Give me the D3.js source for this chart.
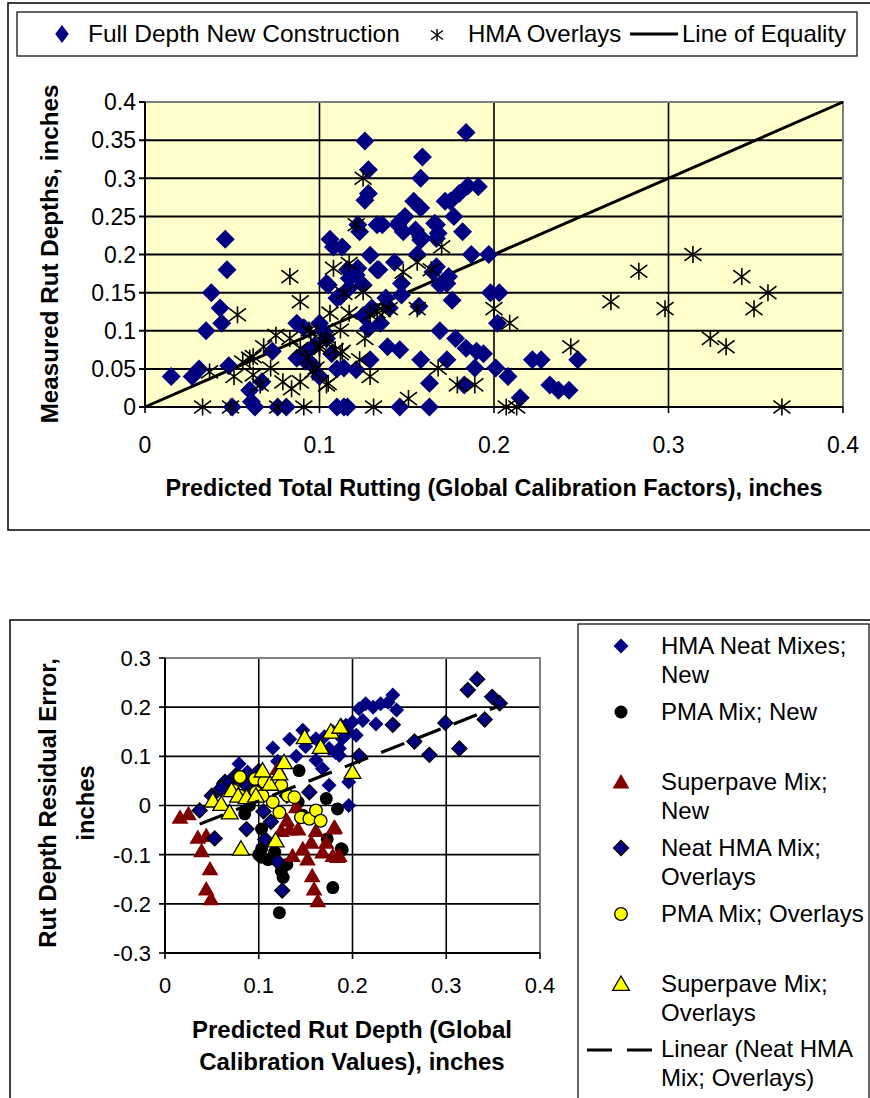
<!DOCTYPE html>
<html>
<head>
<meta charset="utf-8">
<script src="https://cdn.jsdelivr.net/npm/d3@7"></script>
<style>
  body { margin: 0; background: #fff; }
  text { font-family: Arial, "Liberation Sans", sans-serif; fill: #000; }
</style>
</head>
<body>
<svg id="chart" width="870" height="1098"></svg>
<script>
// ---------- Upper chart: measured vs predicted rut depth ----------
const fullDepthNew = [
  [0.015,0.04],[0.027,0.04],[0.031,0.05],[0.035,0.10],[0.038,0.15],[0.043,0.13],[0.044,0.11],
  [0.047,0.18],[0.046,0.22],[0.048,0.054],[0.050,0.0],[0.060,0.022],[0.061,0.007],[0.063,0.0],
  [0.067,0.033],[0.073,0.073],[0.076,0.0],[0.081,0.0],[0.087,0.11],[0.087,0.064],[0.091,0.104],
  [0.093,0.073],[0.096,0.055],[0.100,0.11],[0.106,0.22],[0.108,0.21],[0.113,0.21],[0.105,0.16],
  [0.110,0.143],[0.110,0.05],[0.110,0.0],[0.097,0.08],[0.104,0.09],[0.092,0.06],[0.100,0.04],
  [0.107,0.07],[0.102,0.10],[0.126,0.349],[0.128,0.311],[0.128,0.28],[0.126,0.271],[0.159,0.328],
  [0.158,0.30],[0.184,0.36],[0.154,0.27],[0.158,0.261],[0.175,0.27],[0.180,0.28],[0.185,0.29],
  [0.191,0.289],[0.172,0.27],[0.122,0.239],[0.123,0.23],[0.133,0.239],[0.136,0.239],[0.145,0.239],
  [0.149,0.25],[0.146,0.243],[0.148,0.23],[0.155,0.232],[0.158,0.223],[0.158,0.219],[0.166,0.241],
  [0.167,0.239],[0.168,0.228],[0.177,0.25],[0.182,0.23],[0.167,0.221],[0.129,0.199],[0.143,0.19],
  [0.156,0.20],[0.167,0.184],[0.174,0.171],[0.169,0.16],[0.173,0.162],[0.165,0.177],[0.187,0.20],
  [0.197,0.20],[0.134,0.18],[0.133,0.18],[0.116,0.18],[0.122,0.182],[0.117,0.169],[0.121,0.173],
  [0.120,0.175],[0.104,0.162],[0.117,0.156],[0.112,0.145],[0.125,0.16],[0.138,0.143],[0.147,0.147],
  [0.147,0.162],[0.157,0.132],[0.176,0.14],[0.198,0.15],[0.203,0.15],[0.202,0.11],[0.128,0.103],
  [0.169,0.10],[0.178,0.09],[0.139,0.079],[0.146,0.075],[0.184,0.077],[0.190,0.073],[0.194,0.07],
  [0.158,0.062],[0.173,0.062],[0.129,0.062],[0.114,0.051],[0.121,0.049],[0.189,0.051],[0.201,0.051],
  [0.163,0.031],[0.183,0.029],[0.114,0.0],[0.116,0.0],[0.146,0.0],[0.163,0.0],[0.208,0.04],
  [0.222,0.062],[0.227,0.062],[0.248,0.062],[0.232,0.029],[0.237,0.022],[0.243,0.022],[0.215,0.012],
  [0.125,0.12],[0.130,0.13],[0.140,0.13],[0.135,0.11]
];

const hmaOverlays = [
  [0.033,0.0],[0.037,0.046],[0.049,0.0],[0.051,0.04],[0.053,0.121],[0.056,0.059],[0.060,0.064],
  [0.062,0.042],[0.062,0.066],[0.066,0.029],[0.068,0.079],[0.072,0.051],[0.075,0.094],[0.076,0.0],
  [0.079,0.033],[0.083,0.171],[0.083,0.09],[0.084,0.024],[0.089,0.138],[0.089,0.077],[0.089,0.033],
  [0.091,0.0],[0.093,0.064],[0.094,0.101],[0.095,0.097],[0.096,0.046],[0.098,0.051],[0.100,0.077],
  [0.100,0.081],[0.104,0.029],[0.104,0.088],[0.104,0.092],[0.105,0.031],[0.106,0.123],[0.108,0.182],
  [0.109,0.075],[0.112,0.07],[0.112,0.101],[0.113,0.073],[0.114,0.149],[0.117,0.188],[0.117,0.123],
  [0.121,0.239],[0.123,0.062],[0.125,0.30],[0.125,0.151],[0.126,0.09],[0.129,0.121],[0.129,0.04],
  [0.131,0.0],[0.133,0.125],[0.136,0.127],[0.140,0.129],[0.148,0.177],[0.151,0.011],[0.156,0.19],
  [0.156,0.129],[0.164,0.18],[0.168,0.051],[0.170,0.21],[0.179,0.029],[0.189,0.029],[0.200,0.129],
  [0.209,0.11],[0.207,0.0],[0.213,0.0],[0.244,0.079],[0.267,0.138],[0.283,0.178],[0.298,0.129],
  [0.314,0.20],[0.324,0.09],[0.333,0.079],[0.342,0.171],[0.349,0.129],[0.357,0.15],[0.365,0.0]
];

const equalityLine = [[0, 0], [0.4, 0.4]];

const topXTicks = [0, 0.1, 0.2, 0.3, 0.4];
const topXTickLabels = ["0", "0.1", "0.2", "0.3", "0.4"];
const topYTicks = [0, 0.05, 0.1, 0.15, 0.2, 0.25, 0.3, 0.35, 0.4];
const topYTickLabels = ["0", "0.05", "0.1", "0.15", "0.2", "0.25", "0.3", "0.35", "0.4"];

// ---------- Lower chart: residual error vs predicted rut depth ----------
const hmaNeatNew = [
  [0.115,0.117],[0.133,0.135],[0.147,0.153],[0.079,0.085],[0.062,0.044],[0.076,0.061],[0.088,0.068],
  [0.161,0.136],[0.179,0.15],[0.193,0.163],[0.204,0.143],[0.175,0.116],[0.186,0.116],[0.161,0.092],
  [0.168,0.075],[0.175,0.041],[0.196,0.048],[0.196,0.0],[0.186,0.102],[0.207,0.197],[0.214,0.207],
  [0.230,0.207],[0.243,0.225],[0.247,0.194],[0.225,0.166],[0.211,0.173],[0.196,0.149],[0.189,0.136],
  [0.182,0.108],[0.100,0.06],[0.070,0.05],[0.095,0.04],[0.120,0.09],[0.140,0.10],[0.150,0.12],
  [0.170,0.14],[0.200,0.17],[0.238,0.21],[0.222,0.20]
];

const pmaNew = [
  [0.143,0.071],[0.085,-0.017],[0.103,-0.048],[0.103,-0.088],[0.103,-0.105],[0.117,-0.095],
  [0.124,-0.133],[0.126,-0.146],[0.122,-0.218],[0.172,0.014],[0.184,-0.007],[0.179,-0.167],
  [0.188,-0.088],[0.173,-0.068],[0.142,0.007],[0.147,-0.02],[0.189,-0.09],[0.110,-0.11],
  [0.100,-0.10],[0.130,-0.12],[0.090,0.0]
];

const superpaveNew = [
  [0.016,-0.024],[0.025,-0.017],[0.035,-0.065],[0.044,-0.061],[0.039,-0.092],[0.048,-0.129],
  [0.044,-0.17],[0.049,-0.19],[0.124,-0.051],[0.133,-0.048],[0.142,-0.048],[0.136,-0.102],
  [0.147,-0.088],[0.152,-0.109],[0.156,-0.075],[0.157,-0.143],[0.159,-0.17],[0.163,-0.194],
  [0.168,-0.095],[0.172,-0.075],[0.179,-0.102],[0.186,-0.102],[0.181,-0.044],[0.161,-0.051],
  [0.120,0.075],[0.140,-0.003],[0.180,-0.046],[0.184,-0.104],[0.130,-0.03]
];

const neatHmaOverlays = [
  [0.037,-0.01],[0.064,0.048],[0.053,-0.067],[0.087,-0.048],[0.105,-0.012],[0.113,-0.033],
  [0.107,-0.069],[0.120,-0.114],[0.125,-0.173],[0.154,0.027],[0.087,0.041],[0.243,0.164],
  [0.266,0.13],[0.282,0.103],[0.299,0.168],[0.314,0.116],[0.323,0.235],[0.333,0.257],
  [0.349,0.221],[0.357,0.208],[0.341,0.175],[0.207,0.101],[0.068,0.045],[0.075,0.06],
  [0.095,0.035],[0.130,0.02],[0.050,0.02],[0.060,0.035],[0.080,0.055],[0.100,0.07]
];

const pmaOverlays = [
  [0.080,0.058],[0.096,0.054],[0.106,0.048],[0.073,0.031],[0.080,0.02],[0.097,0.027],
  [0.115,0.007],[0.122,-0.014],[0.124,0.041],[0.131,0.02],[0.138,0.017],[0.145,-0.024],
  [0.154,-0.027],[0.161,-0.01],[0.166,-0.031],[0.104,0.02]
];

const superpaveOverlays = [
  [0.051,0.01],[0.060,0.003],[0.069,-0.014],[0.071,0.031],[0.078,0.02],[0.087,0.017],
  [0.097,0.02],[0.104,0.071],[0.112,0.044],[0.122,0.065],[0.127,0.088],[0.081,-0.088],
  [0.118,-0.071],[0.149,0.139],[0.166,0.119],[0.177,0.15],[0.188,0.16],[0.200,0.068],[0.187,0.16]
];

const botXTicks = [0, 0.1, 0.2, 0.3, 0.4];
const botXTickLabels = ["0", "0.1", "0.2", "0.3", "0.4"];
const botYTicks = [-0.3, -0.2, -0.1, 0, 0.1, 0.2, 0.3];
const botYTickLabels = ["-0.3", "-0.2", "-0.1", "0", "0.1", "0.2", "0.3"];

// ---------- marker shapes ----------
const diamondShape = { draw(ctx, r) { ctx.moveTo(0, -r); ctx.lineTo(r, 0); ctx.lineTo(0, r); ctx.lineTo(-r, 0); ctx.closePath(); } };
const starShape = { draw(ctx, r) {
  const dx = r, dy = r * 0.76;
  ctx.moveTo(0, -r); ctx.lineTo(0, r);
  ctx.moveTo(-dx, -dy); ctx.lineTo(dx, dy);
  ctx.moveTo(-dx, dy); ctx.lineTo(dx, -dy);
} };
const triangleShape = { draw(ctx, r) { ctx.moveTo(0, -r); ctx.lineTo(r * 1.05, r * 0.8); ctx.lineTo(-r * 1.05, r * 0.8); ctx.closePath(); } };
const circleShape = { draw(ctx, r) { ctx.moveTo(r, 0); ctx.arc(0, 0, r, 0, 2 * Math.PI); } };

const svg = d3.select("#chart");
const NAVY = "#000080", MAROON = "#800000", YELLOW = "#FFFF00", PLOT_BG = "#FFFFCC", FRAME = "#808080";

function drawMarkers(g, data, x, y, shape, size, fill, stroke, strokeWidth) {
  g.append("g").selectAll("path").data(data).join("path")
    .attr("transform", d => `translate(${x(d[0])},${y(d[1])})`)
    .attr("d", d3.symbol(shape, size)())
    .attr("fill", fill)
    .attr("stroke", stroke)
    .attr("stroke-width", strokeWidth);
}

// =================== Upper chart ===================
{
  svg.append("rect").attr("x", 8).attr("y", 3).attr("width", 880).attr("height", 527)
    .attr("fill", "#fff").attr("stroke", "#000").attr("stroke-width", 1.5);

  const x = d3.scaleLinear().domain([0, 0.4]).range([145, 843]);
  const y = d3.scaleLinear().domain([0, 0.4]).range([407, 102]);
  const g = svg.append("g");

  g.append("rect").attr("x", x(0)).attr("y", y(0.4)).attr("width", x(0.4) - x(0)).attr("height", y(0) - y(0.4))
    .attr("fill", PLOT_BG);

  // horizontal grid with outer tick marks
  g.append("g").selectAll("line").data(topYTicks.filter(v => v > 0 && v < 0.4)).join("line")
    .attr("x1", x(0) - 6).attr("x2", x(0.4)).attr("y1", d => y(d)).attr("y2", d => y(d))
    .attr("stroke", "#000").attr("stroke-width", 2);
  // vertical grid
  g.append("g").selectAll("line").data(topXTicks.filter(v => v > 0 && v < 0.4)).join("line")
    .attr("x1", d => x(d)).attr("x2", d => x(d)).attr("y1", y(0.4)).attr("y2", y(0) + 6)
    .attr("stroke", "#000").attr("stroke-width", 1.6);
  // frame (top / right)
  g.append("path").attr("d", `M${x(0)},${y(0.4)}H${x(0.4)}V${y(0)}`).attr("fill", "none")
    .attr("stroke", FRAME).attr("stroke-width", 2);
  // remaining ticks at the ends
  g.append("line").attr("x1", x(0) - 6).attr("x2", x(0)).attr("y1", y(0.4)).attr("y2", y(0.4)).attr("stroke", "#000").attr("stroke-width", 2);
  g.append("line").attr("x1", x(0) - 6).attr("x2", x(0)).attr("y1", y(0)).attr("y2", y(0)).attr("stroke", "#000").attr("stroke-width", 2);
  g.append("line").attr("x1", x(0.4)).attr("x2", x(0.4)).attr("y1", y(0)).attr("y2", y(0) + 6).attr("stroke", "#000").attr("stroke-width", 1.6);
  g.append("line").attr("x1", x(0)).attr("x2", x(0)).attr("y1", y(0)).attr("y2", y(0) + 6).attr("stroke", "#000").attr("stroke-width", 1.6);
  // axes
  g.append("line").attr("x1", x(0)).attr("x2", x(0)).attr("y1", y(0.4)).attr("y2", y(0)).attr("stroke", "#000").attr("stroke-width", 2);
  g.append("line").attr("x1", x(0)).attr("x2", x(0.4)).attr("y1", y(0)).attr("y2", y(0)).attr("stroke", "#000").attr("stroke-width", 2);

  // line of equality
  g.append("path").datum(equalityLine)
    .attr("d", d3.line().x(d => x(d[0])).y(d => y(d[1])))
    .attr("fill", "none").attr("stroke", "#000").attr("stroke-width", 3);

  drawMarkers(g, fullDepthNew, x, y, diamondShape, 9.5, NAVY, "none", 0);
  drawMarkers(g, hmaOverlays, x, y, starShape, 8.5, "none", "#000", 1.6);

  // tick labels
  g.append("g").selectAll("text").data(topYTicks).join("text")
    .attr("x", x(0) - 9).attr("y", d => y(d)).attr("dy", "0.36em")
    .attr("text-anchor", "end").attr("font-size", 23)
    .text((d, i) => topYTickLabels[i]);
  g.append("g").selectAll("text").data(topXTicks).join("text")
    .attr("x", d => x(d)).attr("y", 453)
    .attr("text-anchor", "middle").attr("font-size", 23)
    .text((d, i) => topXTickLabels[i]);

  // axis titles
  svg.append("text").attr("x", 494).attr("y", 496).attr("text-anchor", "middle")
    .attr("font-size", 23.4).attr("font-weight", "bold")
    .text("Predicted Total Rutting (Global Calibration Factors), inches");
  svg.append("text").attr("transform", "translate(58,254) rotate(-90)").attr("text-anchor", "middle")
    .attr("font-size", 24.2).attr("font-weight", "bold")
    .text("Measured Rut Depths, inches");

  // legend
  const lg = svg.append("g");
  lg.append("rect").attr("x", 17).attr("y", 12).attr("width", 840).attr("height", 44)
    .attr("fill", "#fff").attr("stroke", "#000").attr("stroke-width", 1.2);
  lg.append("path").attr("transform", "translate(62,34) scale(0.75,1)")
    .attr("d", d3.symbol(diamondShape, 9)()).attr("fill", NAVY);
  lg.append("text").attr("x", 88).attr("y", 42).attr("font-size", 24.5).text("Full Depth New Construction");
  lg.append("path").attr("transform", "translate(437,35)")
    .attr("d", d3.symbol(starShape, 6)()).attr("fill", "none").attr("stroke", "#000").attr("stroke-width", 1.4);
  lg.append("text").attr("x", 468).attr("y", 42).attr("font-size", 24).text("HMA Overlays");
  lg.append("line").attr("x1", 630).attr("x2", 678).attr("y1", 34).attr("y2", 34).attr("stroke", "#000").attr("stroke-width", 3);
  lg.append("text").attr("x", 682).attr("y", 42).attr("font-size", 24).text("Line of Equality");
}

// =================== Lower chart ===================
{
  svg.append("rect").attr("x", 10).attr("y", 620).attr("width", 880).attr("height", 500)
    .attr("fill", "#fff").attr("stroke", "#000").attr("stroke-width", 1.5);

  const x = d3.scaleLinear().domain([0, 0.4]).range([165, 540]);
  const y = d3.scaleLinear().domain([-0.3, 0.3]).range([953, 658]);
  const g = svg.append("g");

  g.append("g").selectAll("line").data(botYTicks.filter(v => v > -0.3 && v < 0.3)).join("line")
    .attr("x1", x(0) - 6).attr("x2", x(0.4)).attr("y1", d => y(d)).attr("y2", d => y(d))
    .attr("stroke", "#000").attr("stroke-width", 1.6);
  g.append("g").selectAll("line").data(botXTicks.filter(v => v > 0 && v < 0.4)).join("line")
    .attr("x1", d => x(d)).attr("x2", d => x(d)).attr("y1", y(0.3)).attr("y2", y(-0.3) + 6)
    .attr("stroke", "#000").attr("stroke-width", 1.6);
  g.append("path").attr("d", `M${x(0)},${y(0.3)}H${x(0.4)}V${y(-0.3)}`).attr("fill", "none")
    .attr("stroke", FRAME).attr("stroke-width", 2);
  g.append("line").attr("x1", x(0) - 6).attr("x2", x(0)).attr("y1", y(0.3)).attr("y2", y(0.3)).attr("stroke", "#000").attr("stroke-width", 1.6);
  g.append("line").attr("x1", x(0) - 6).attr("x2", x(0)).attr("y1", y(-0.3)).attr("y2", y(-0.3)).attr("stroke", "#000").attr("stroke-width", 1.6);
  g.append("line").attr("x1", x(0)).attr("x2", x(0)).attr("y1", y(-0.3)).attr("y2", y(-0.3) + 6).attr("stroke", "#000").attr("stroke-width", 1.6);
  g.append("line").attr("x1", x(0.4)).attr("x2", x(0.4)).attr("y1", y(-0.3)).attr("y2", y(-0.3) + 6).attr("stroke", "#000").attr("stroke-width", 1.6);
  g.append("line").attr("x1", x(0)).attr("x2", x(0)).attr("y1", y(0.3)).attr("y2", y(-0.3)).attr("stroke", "#000").attr("stroke-width", 2);
  g.append("line").attr("x1", x(0)).attr("x2", x(0.4)).attr("y1", y(-0.3)).attr("y2", y(-0.3)).attr("stroke", "#000").attr("stroke-width", 2);

  drawMarkers(g, hmaNeatNew, x, y, diamondShape, 7.5, NAVY, "none", 0);
  drawMarkers(g, pmaNew, x, y, circleShape, 6.5, "#000", "none", 0);
  drawMarkers(g, superpaveNew, x, y, triangleShape, 8, MAROON, "none", 0);
  drawMarkers(g, neatHmaOverlays, x, y, diamondShape, 7.5, NAVY, "#000", 1.3);
  drawMarkers(g, pmaOverlays, x, y, circleShape, 6.3, YELLOW, "#000", 1.3);
  drawMarkers(g, superpaveOverlays, x, y, triangleShape, 8, YELLOW, "#000", 1.3);

  // least-squares trend of the overlay series
  const mx = d3.mean(neatHmaOverlays, d => d[0]), my = d3.mean(neatHmaOverlays, d => d[1]);
  const slope = d3.sum(neatHmaOverlays, d => (d[0] - mx) * (d[1] - my)) / d3.sum(neatHmaOverlays, d => (d[0] - mx) ** 2);
  const intercept = my - slope * mx;
  const [x0, x1] = d3.extent(neatHmaOverlays, d => d[0]);
  g.append("path").datum([x0, x1])
    .attr("d", d3.line().x(v => x(v)).y(v => y(intercept + slope * v)))
    .attr("fill", "none").attr("stroke", "#000").attr("stroke-width", 3.2).attr("stroke-dasharray", "25,14");

  g.append("g").selectAll("text").data(botYTicks).join("text")
    .attr("x", x(0) - 14).attr("y", d => y(d)).attr("dy", "0.36em")
    .attr("text-anchor", "end").attr("font-size", 22)
    .text((d, i) => botYTickLabels[i]);
  g.append("g").selectAll("text").data(botXTicks).join("text")
    .attr("x", d => x(d)).attr("y", 993)
    .attr("text-anchor", "middle").attr("font-size", 22)
    .text((d, i) => botXTickLabels[i]);

  const xt = svg.append("text").attr("text-anchor", "middle").attr("font-size", 24).attr("font-weight", "bold");
  xt.append("tspan").attr("x", 352).attr("y", 1038).text("Predicted Rut Depth (Global");
  xt.append("tspan").attr("x", 352).attr("y", 1070).text("Calibration Values), inches");
  const yt = svg.append("text").attr("transform", "translate(0,803) rotate(-90)").attr("text-anchor", "middle")
    .attr("font-size", 23.8).attr("font-weight", "bold");
  yt.append("tspan").attr("x", 0).attr("y", 56).text("Rut Depth Residual Error,");
  yt.append("tspan").attr("x", 0).attr("y", 94).text("inches");

  // legend
  const lg = svg.append("g");
  lg.append("rect").attr("x", 578).attr("y", 624).attr("width", 291).attr("height", 490)
    .attr("fill", "#fff").attr("stroke", "#000").attr("stroke-width", 1.2);
  const entries = [
    { shape: diamondShape, r: 7.5, fill: NAVY, stroke: "none", cy: 646, lines: ["HMA Neat Mixes;", "New"] },
    { shape: circleShape, r: 6.5, fill: "#000", stroke: "none", cy: 712, lines: ["PMA Mix; New"] },
    { shape: triangleShape, r: 8, fill: MAROON, stroke: "none", cy: 782, lines: ["Superpave Mix;", "New"] },
    { shape: diamondShape, r: 7.5, fill: NAVY, stroke: "#000", cy: 848, lines: ["Neat HMA Mix;", "Overlays"] },
    { shape: circleShape, r: 6.3, fill: YELLOW, stroke: "#000", cy: 914, lines: ["PMA Mix; Overlays"] },
    { shape: triangleShape, r: 8, fill: YELLOW, stroke: "#000", cy: 984, lines: ["Superpave Mix;", "Overlays"] }
  ];
  entries.forEach(e => {
    lg.append("path").attr("transform", `translate(621,${e.cy})`)
      .attr("d", d3.symbol(e.shape, e.r)()).attr("fill", e.fill)
      .attr("stroke", e.stroke).attr("stroke-width", e.stroke === "none" ? 0 : 1.3);
    e.lines.forEach((t, i) => {
      lg.append("text").attr("x", 661).attr("y", e.cy + 8 + i * 29).attr("font-size", 24).text(t);
    });
  });
  lg.append("line").attr("x1", 587).attr("x2", 653).attr("y1", 1050).attr("y2", 1050)
    .attr("stroke", "#000").attr("stroke-width", 3.2).attr("stroke-dasharray", "25,15");
  lg.append("text").attr("x", 661).attr("y", 1057).attr("font-size", 24).text("Linear (Neat HMA");
  lg.append("text").attr("x", 661).attr("y", 1086).attr("font-size", 24).text("Mix; Overlays)");
}
</script>
</body>
</html>
